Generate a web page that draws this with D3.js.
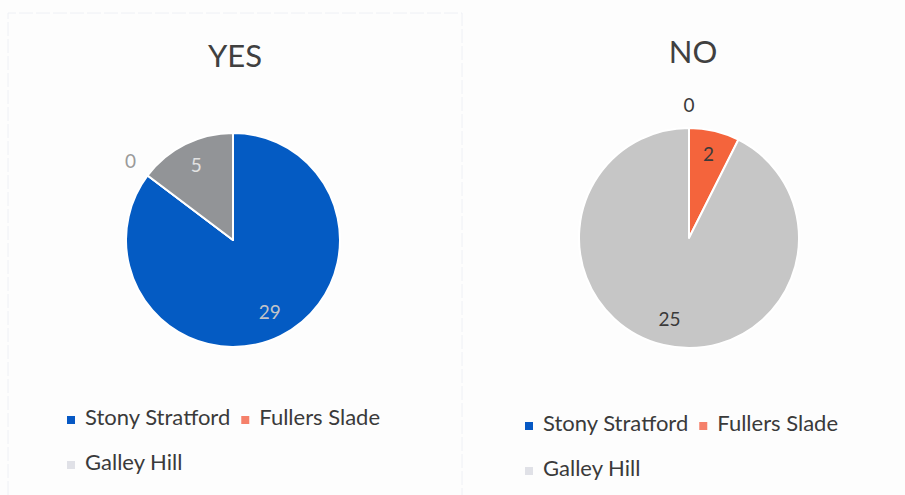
<!DOCTYPE html>
<html>
<head>
<meta charset="utf-8">
<script src="https://cdn.jsdelivr.net/npm/d3@7"></script>
<style>
  body { margin: 0; background: #fdfdfd; }
  text { font-family: Lato, "Noto Sans", sans-serif; }
</style>
</head>
<body>
<script>
// two pies, same three areas
var categories = ['Stony Stratford', 'Fullers Slade', 'Galley Hill'];
var titles = ['YES', 'NO'];
var yesValues = [29, 0, 5];
var noValues = [0, 2, 25];

var width = 905, height = 495;

var svg = d3.select('body').append('svg')
  .attr('width', width)
  .attr('height', height);

// faint box of the left chart (scan leftover)
svg.append('path')
  .attr('d', 'M8,495 L8,13 L462,13 L462,495')
  .attr('fill', 'none')
  .attr('stroke', '#eef0f5')
  .attr('stroke-width', 1)
  .attr('stroke-dasharray', '14 3');

var charts = [
  {title: titles[0], values: yesValues, cx: 233, cy: 240, r: 107, titleX: 235, titleY: 67,
   colors: ['#045bc3', '#f26a45', '#929497'], labelColors: ['#c2c4c8', '#9a9a9a', '#e2e2e2'],
   legendX: 67, legendY: 425},
  {title: titles[1], values: noValues, cx: 689, cy: 238, r: 110, titleX: 693, titleY: 63,
   colors: ['#045bc3', '#f4643c', '#c6c6c6'], labelColors: ['#3a3a3a', '#3a3a3a', '#3a3a3a'],
   legendX: 525, legendY: 431}
];

var legendColors = ['#0658c4', '#f5806a', '#e0e1e7'];

var pie = d3.pie().sort(null).value(function(d) { return d; });

charts.forEach(function(c) {
  var g = svg.append('g')
    .attr('transform', 'translate(' + c.cx + ',' + c.cy + ')');

  var arc = d3.arc().innerRadius(0).outerRadius(c.r);
  var labelArc = d3.arc().innerRadius(c.r * 0.77).outerRadius(c.r * 0.77);
  var outArc = d3.arc().innerRadius(c.r * 1.2).outerRadius(c.r * 1.2);

  var slices = pie(c.values);

  g.selectAll('path.slice')
    .data(slices)
    .enter().append('path')
    .attr('class', 'slice')
    .attr('d', arc)
    .attr('fill', function(d, i) { return c.colors[i]; })
    .attr('stroke', '#ffffff')
    .attr('stroke-width', 2)
    .attr('stroke-linejoin', 'round');

  g.selectAll('text.lbl')
    .data(slices)
    .enter().append('text')
    .attr('class', 'lbl')
    .attr('transform', function(d) {
      var p = d.value === 0 ? outArc.centroid(d) : labelArc.centroid(d);
      return 'translate(' + p + ')';
    })
    .attr('dy', '0.3em')
    .style('text-anchor', 'middle')
    .style('fill', function(d, i) { return c.labelColors[i]; })
    .attr('font-size', 19)
    .text(function(d) { return d.value; });

  svg.append('text')
    .attr('x', c.titleX)
    .attr('y', c.titleY)
    .style('text-anchor', 'middle')
    .style('fill', '#404040')
    .attr('font-size', 31)
    .text(c.title);

  // legend: two on first row, one on second
  var lg = svg.append('g');
  var x = c.legendX;
  categories.forEach(function(name, i) {
    var row = i < 2 ? 0 : 1;
    if (i === 2) x = c.legendX;
    var y = c.legendY + row * 45;
    lg.append('rect')
      .attr('x', x)
      .attr('y', y - 9)
      .attr('width', 8)
      .attr('height', 8)
      .attr('fill', legendColors[i]);
    var t = lg.append('text')
      .attr('x', x + 18)
      .attr('y', y)
      .style('fill', '#3a3a3a')
      .attr('font-size', 22)
      .text(name);
    x = x + 18 + t.node().getComputedTextLength() + 11;
  });
});
</script>
</body>
</html>
